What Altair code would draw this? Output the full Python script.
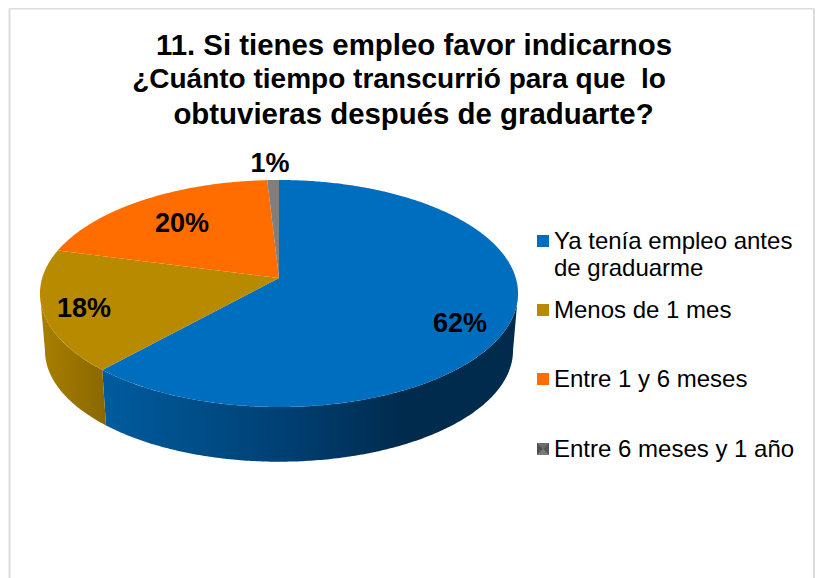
import math
import altair as alt
import pandas as pd

# ---- values ----
categories = ["Ya tenía empleo antes\nde graduarme", "Menos de 1 mes", "Entre 1 y 6 meses", "Entre 6 meses y 1 año"]
shares = [61.7, 17.4, 20.0, 0.9]
share_labels = ["62%", "18%", "20%", "1%"]
title_lines = ["11. Si tienes empleo favor indicarnos", "¿Cuánto tiempo transcurrió para que \u00a0lo", "obtuvieras después de graduarte?"]

# ---- layout / style (page pixels) ----
colors = ["#006EBE", "#B88A00", "#FF6D00", "#7F7F7F"]
wall_stops = {
    0: [(0.0, "#005C9E"), (0.45, "#003F72"), (0.72, "#002B4D"), (1.0, "#002B4D")],
    1: [(0.0, "#A87F00"), (1.0, "#8A6800")],
}
W, H = 807, 570
X0, Y0 = 8, 8
CX, AY = 279.0, 278.0
A, B, K = 236.8, 111.4, 0.1365
WALL_SCALE, WALL_CY, TOP_CY = 0.979, 350.6, 293.5
label_pos = [(460, 324), (84, 309), (182, 224), (270, 164)]
legend_y = [241, 310, 379, 449]
legend_text_y = [242, 311, 380, 450]
title_x = [414, 399, 413.5]
title_y = [46, 80, 115]
title_size = [29.4, 28.0, 29.4]

xs = alt.Scale(domain=[X0, X0 + W], range=[0, W], nice=False, zero=False)
ys = alt.Scale(domain=[Y0, Y0 + H], range=[0, H], nice=False, zero=False)


def rim(theta):
    d = 1 + K * math.cos(theta)
    return CX + A * math.sin(theta) / d, AY - B * math.cos(theta) / d


def low(x, y):
    return CX + (x - CX) * WALL_SCALE, WALL_CY + (y - TOP_CY) * WALL_SCALE


# slice boundaries from the shares
total = sum(shares)
bounds = [0.0]
for s in shares:
    bounds.append(bounds[-1] + s / total * 2 * math.pi)

top_rows, wall_rows = [], []
for i, name in enumerate(categories):
    a0, a1 = bounds[i], bounds[i + 1]
    n = max(4, int((a1 - a0) / 0.01))
    pts = [rim(a0 + (a1 - a0) * j / n) for j in range(n + 1)]
    poly = [(CX, AY)] + pts + [(CX, AY)]
    top_rows += [dict(slice=i, k=k, x=p[0], y=p[1]) for k, p in enumerate(poly)]
    # visible wall: the part of the rim in front of the widest points
    start = max(a0, math.pi - math.acos(K))
    end = min(a1, math.pi + math.acos(K))
    if end > start:
        n = int((end - start) / 0.01)
        up = [rim(start + (end - start) * j / n) for j in range(n + 1)]
        poly = up + [low(*p) for p in reversed(up)] + [up[0]]
        wall_rows.append((i, [dict(k=k, x=p[0], y=p[1]) for k, p in enumerate(poly)]))

layers = []
# frame
frame = pd.DataFrame({"x": [9.5, 9.5, 814], "y": [8.5, 8.5, 8.5], "x2": [814, 9.5, 814], "y2": [8.5, 578, 578]})
layers.append(alt.Chart(frame).mark_rule(color="#DCDCDC", strokeWidth=2).encode(
    x=alt.X("x:Q", scale=xs, axis=None), y=alt.Y("y:Q", scale=ys, axis=None), x2="x2:Q", y2="y2:Q"))


def polygon(rows, fill):
    return alt.Chart(pd.DataFrame(rows)).mark_line(fill=fill, strokeWidth=0, clip=False).encode(
        x=alt.X("x:Q", scale=xs, axis=None), y=alt.Y("y:Q", scale=ys, axis=None), order="k:Q")


for i, rows in wall_rows:
    stops = [alt.GradientStop(offset=o, color=c) for o, c in wall_stops[i]]
    layers.append(polygon(rows, alt.LinearGradient(gradient="linear", x1=0, x2=1, y1=0, y2=0, stops=stops)))
for i in range(len(categories)):
    rows = [r for r in top_rows if r["slice"] == i]
    layers.append(polygon(rows, colors[i]))

# data labels
lab = pd.DataFrame({"t": share_labels, "x": [p[0] for p in label_pos], "y": [p[1] for p in label_pos]})
layers.append(alt.Chart(lab).mark_text(font="Liberation Sans", fontWeight="bold", fontSize=27, color="#000000", baseline="middle").encode(
    x=alt.X("x:Q", scale=xs, axis=None), y=alt.Y("y:Q", scale=ys, axis=None), text="t:N"))

# legend
leg = pd.DataFrame({"name": categories, "y": legend_y, "ty": legend_text_y, "c": colors, "x": [543] * 4, "tx": [554] * 4})
layers.append(alt.Chart(leg).mark_square(size=144, opacity=1, filled=True).encode(
    x=alt.X("x:Q", scale=xs, axis=None), y=alt.Y("y:Q", scale=ys, axis=None), color=alt.Color("c:N", scale=None)))
# bevel of the last swatch
sx, sy, hs = 543, legend_y[3], 6
bevel = [("#6E6E6E", [(-1, -1), (1, -1), (0, 0)]), ("#4F4F4F", [(-1, -1), (-1, 1), (0, 0)]),
         ("#555555", [(1, -1), (1, 1), (0, 0)]), ("#7A7A7A", [(-1, 1), (1, 1), (0, 0)])]
for col, tri in bevel:
    rows = [dict(k=k, x=sx + hs * p[0], y=sy + hs * p[1]) for k, p in enumerate(tri + tri[:1])]
    layers.append(polygon(rows, col))
layers.append(alt.Chart(leg).mark_text(font="Liberation Sans", fontSize=24, color="#000000", align="left", baseline="middle", lineBreak="\n", lineHeight=27).encode(
    x=alt.X("tx:Q", scale=xs, axis=None), y=alt.Y("ty:Q", scale=ys, axis=None), text="name:N"))

# title
tit = pd.DataFrame({"t": title_lines, "x": title_x, "y": title_y, "s": title_size})
layers.append(alt.Chart(tit).mark_text(font="Liberation Sans", fontWeight="bold", color="#000000", baseline="middle").encode(
    x=alt.X("x:Q", scale=xs, axis=None), y=alt.Y("y:Q", scale=ys, axis=None), text="t:N",
    size=alt.Size("s:Q", scale=None)))

chart = alt.layer(*layers).properties(width=W, height=H, padding=0, autosize=alt.AutoSizeParams(type="none")).configure_view(strokeWidth=0)
chart.save("out.html", embed_options={"renderer": "svg", "actions": False})
